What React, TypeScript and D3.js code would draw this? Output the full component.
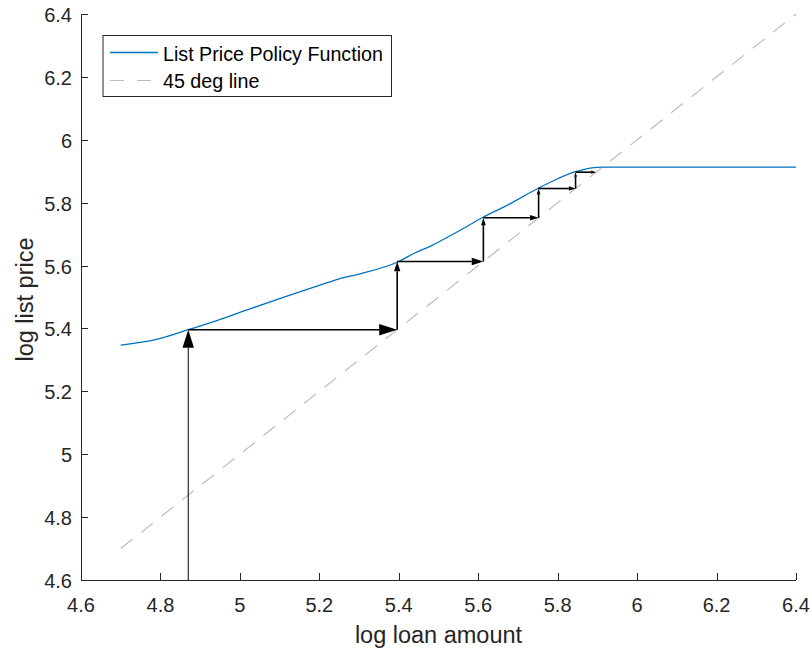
import React from "react";
import * as d3 from "d3";

// Policy function: log loan amount -> log list price
const loanGrid = [4.7, 4.79, 4.87, 4.94, 5.02, 5.1, 5.2, 5.25, 5.3, 5.4, 5.44, 5.48, 5.55, 5.61, 5.67, 5.75, 5.8, 5.84, 5.87, 5.91, 6.0, 6.2, 6.4];
const listPrice = [5.347, 5.365, 5.396, 5.424, 5.46, 5.495, 5.537, 5.558, 5.573, 5.613, 5.64, 5.662, 5.709, 5.752, 5.79, 5.845, 5.876, 5.897, 5.907, 5.913, 5.913, 5.913, 5.913];

// 45 degree reference line
const diagX = [4.7, 6.4];

// Iterates of the policy map starting from the initial loan amount
const iterates = [4.87, 5.396, 5.613, 5.752, 5.845, 5.897];

const xTicks = [4.6, 4.8, 5, 5.2, 5.4, 5.6, 5.8, 6, 6.2, 6.4];
const yTicks = [4.6, 4.8, 5, 5.2, 5.4, 5.6, 5.8, 6, 6.2, 6.4];

const legendLabels = ["List Price Policy Function", "45 deg line"];

const W = 812;
const H = 654;
const M = { left: 81, right: 16, top: 14, bottom: 74 };
const FONT = "'Liberation Sans', Arial, Helvetica, sans-serif";
const AXIS = "#262626";
const BLUE = "#0072BD";
const GRAY = "#bdbdbd";
const DASH = "15,11";

function Arrow({ x1, y1, x2, y2, w }: { x1: number; y1: number; x2: number; y2: number; w: number }) {
  const len = Math.hypot(x2 - x1, y2 - y1);
  const head = Math.min(18, 3 + len * 0.1);
  const half = head * 0.32;
  const ux = (x2 - x1) / len;
  const uy = (y2 - y1) / len;
  const bx = x2 - ux * head;
  const by = y2 - uy * head;
  const px = -uy;
  const py = ux;
  const pts = [
    [x2, y2],
    [bx + px * half, by + py * half],
    [bx - px * half, by - py * half],
  ];
  return (
    <g>
      <line x1={x1} y1={y1} x2={bx} y2={by} stroke="#000" strokeWidth={w} />
      <polygon points={pts.map((p) => p.join(",")).join(" ")} fill="#000" />
    </g>
  );
}

export default function App() {
  const x = d3.scaleLinear().domain([4.6, 6.4]).range([M.left, W - M.right]);
  const y = d3.scaleLinear().domain([4.6, 6.4]).range([H - M.bottom, M.top]);

  const policyLine = d3
    .line<number>()
    .x((_, i) => x(loanGrid[i]))
    .y((d) => y(d))
    .curve(d3.curveMonotoneX)(listPrice) as string;

  const arrows: { x1: number; y1: number; x2: number; y2: number; w: number }[] = [];
  for (let i = 0; i < iterates.length - 1; i++) {
    const a = iterates[i];
    const b = iterates[i + 1];
    arrows.push({ x1: x(a), y1: y(i === 0 ? 4.6 : a), x2: x(a), y2: y(b), w: i === 0 ? 1 : 1.6 });
    arrows.push({ x1: x(a), y1: y(b), x2: x(b), y2: y(b), w: 1.6 });
  }

  const x0 = M.left;
  const yb = H - M.bottom;

  return (
    <svg width={W} height={H} style={{ position: "absolute", left: 0, top: 0, background: "#fff" }} fontFamily={FONT}>
      {/* 45 degree line */}
      <line
        x1={x(diagX[0])}
        y1={y(diagX[0])}
        x2={x(diagX[1])}
        y2={y(diagX[1])}
        stroke={GRAY}
        strokeWidth={1.2}
        strokeDasharray={DASH}
      />
      {/* policy function */}
      <path d={policyLine} fill="none" stroke={BLUE} strokeWidth={1.3} />
      {/* cobweb arrows */}
      {arrows.map((a, i) => (
        <Arrow key={i} {...a} />
      ))}

      {/* axes */}
      <line x1={x0 + 0.5} y1={M.top} x2={x0 + 0.5} y2={yb} stroke={AXIS} strokeWidth={1} />
      <line x1={x0} y1={yb + 0.5} x2={W - M.right} y2={yb + 0.5} stroke={AXIS} strokeWidth={1} />
      {xTicks.map((t) => (
        <g key={"x" + t}>
          <line x1={Math.round(x(t)) + 0.5} x2={Math.round(x(t)) + 0.5} y1={yb} y2={yb - 7} stroke={AXIS} />
          <text x={x(t)} y={yb + 32} textAnchor="middle" fontSize={20} fill={AXIS}>
            {t}
          </text>
        </g>
      ))}
      {yTicks.map((t) => (
        <g key={"y" + t}>
          <line x1={x0} x2={x0 + 7} y1={Math.round(y(t)) + 0.5} y2={Math.round(y(t)) + 0.5} stroke={AXIS} />
          <text x={x0 - 9} y={y(t) + 8} textAnchor="end" fontSize={20} fill={AXIS}>
            {t}
          </text>
        </g>
      ))}
      <text x={(x0 + W - M.right) / 2} y={643} textAnchor="middle" fontSize={23.5} fill={AXIS}>
        log loan amount
      </text>
      <text
        transform={`translate(33,299.5) rotate(-90)`}
        textAnchor="middle"
        fontSize={23.5}
        fill={AXIS}
      >
        log list price
      </text>

      {/* legend */}
      <rect x={103} y={35.5} width={288.5} height={61} fill="#fff" stroke={AXIS} strokeWidth={1} />
      <line x1={110} x2={158} y1={52.5} y2={52.5} stroke={BLUE} strokeWidth={1.3} />
      <line x1={110} x2={158} y1={80.5} y2={80.5} stroke={GRAY} strokeWidth={1.2} strokeDasharray="14,13" />
      <text x={163} y={61} fontSize={19.7} fill="#000">
        {legendLabels[0]}
      </text>
      <text x={163} y={88} fontSize={19.7} fill="#000">
        {legendLabels[1]}
      </text>
    </svg>
  );
}
